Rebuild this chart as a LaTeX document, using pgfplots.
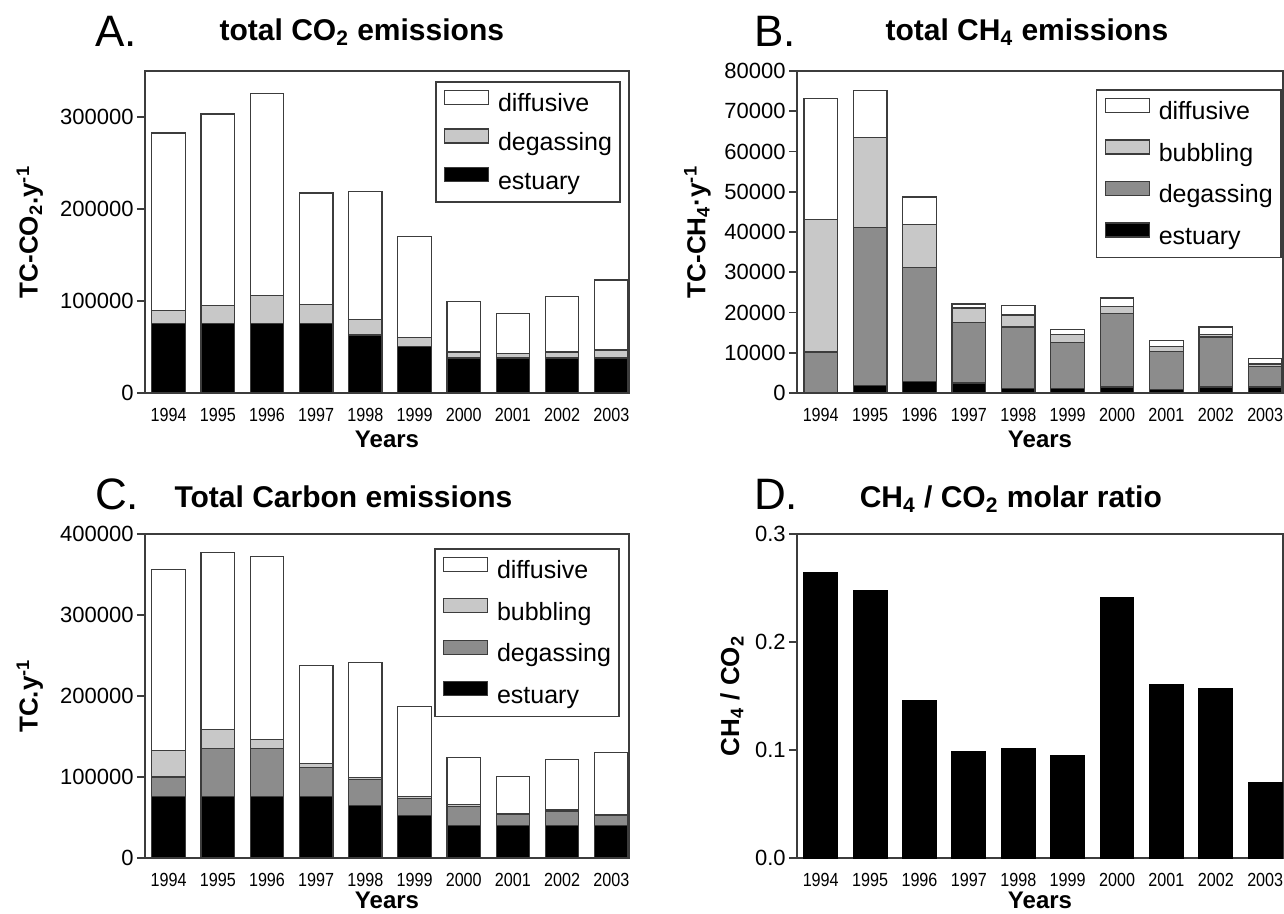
\documentclass[border=0pt]{standalone}
\usepackage{fontspec}
\setmainfont{Liberation Sans}
\newfontfamily\narrowfont[FakeStretch=0.85]{Liberation Sans}
\usepackage{pgfplots}
\usepackage{pgfplotstable}
\pgfplotsset{compat=1.18}

\definecolor{lgray}{RGB}{200,200,200}
\definecolor{mgray}{RGB}{140,140,140}
\definecolor{edge}{RGB}{60,60,60}

% segments of the stacked bars (not cumulative)
\pgfplotstableread{
i est deg dif
0 75700 13800 193100
1 75700 19200 208400
2 75700 30100 219900
3 75700 20300 121400
4 63000 16700 139500
5 50700 9400 110200
6 38000 6600 55000
7 38000 4800 43800
8 38000 6600 60100
9 38000 8700 76100
}\tabA

\pgfplotstableread{
i est deg bub dif
0 0 10200 32900 30000
1 1900 39300 22300 11700
2 2900 28300 10600 6900
3 2500 15100 3500 1000
4 1200 15200 3000 2300
5 1200 11400 2000 1200
6 1500 18300 1600 2200
7 900 9400 1200 1600
8 1500 12400 700 1800
9 1500 5000 700 1400
}\tabB

\pgfplotstableread{
i est deg bub dif
0 76400 23600 33100 223500
1 76400 59100 22800 219000
2 76400 58700 10800 226000
3 76400 35600 4500 121500
4 64900 31800 2900 142100
5 52100 21000 2500 111200
6 39700 24300 2100 57500
7 39700 13600 1700 45800
8 39700 18200 1600 62000
9 39700 12800 1600 76500
}\tabC

\pgfplotstableread{
i ratio
0 0.264
1 0.248
2 0.146
3 0.0985
4 0.101
5 0.095
6 0.241
7 0.1605
8 0.1565
9 0.070
}\tabD

\newcommand\xt{\narrowfont\fontsize{9.5}{9.5}\selectfont}
\tikzset{letter/.style={anchor=base west, font=\fontsize{22}{22}\selectfont}}

\pgfplotsset{
  lg/.style={legend image code/.code={\draw[##1, line width=0.6pt] (0pt,0.5pt) rectangle (22pt,7.5pt);}},
  panel/.style={
    scale only axis, clip=false,
    xmin=-0.48, xmax=9.36, ymin=0,
    xtick={0,...,9},
    xticklabels={{\xt 1994},{\xt 1995},{\xt 1996},{\xt 1997},{\xt 1998},
      {\xt 1999},{\xt 2000},{\xt 2001},{\xt 2002},{\xt 2003}},
    xticklabel style={font=\xt},
    major x tick style={draw=none},
    ytick pos=left, tick align=outside, major tick length=4pt,
    ytick style={edge, line width=0.8pt},
    axis line style={edge, line width=0.8pt},
    scaled y ticks=false,
    yticklabel={\fontsize{11}{11}\selectfont\pgfmathprintnumber[assume math mode=true]{\tick}},
    yticklabel style={font=\fontsize{11}{11}\selectfont, inner sep=1.5pt,
      /pgf/number format/fixed, /pgf/number format/set thousands separator={}},
    title style={anchor=base, font=\bfseries\fontsize{15}{15}\selectfont},
    xlabel={Years},
    xlabel style={at={(axis description cs:0.5,0)}, anchor=center, yshift=-23pt,
      font=\bfseries\fontsize{12}{12}\selectfont},
    ylabel style={anchor=center, font=\bfseries\fontsize{13}{13}\selectfont},
    bar width=0.68,
    every axis plot/.append style={draw=edge, line width=0.6pt},
    reverse legend,
    legend cell align=left,
    legend style={anchor=north east, draw=edge, line width=0.8pt,
      font=\fontsize{12.5}{12.5}\selectfont, inner sep=4pt, column sep=4.5pt,
      nodes={inner sep=0pt, text height=9pt, text depth=2.5pt}},
  },
}

\begin{document}
\begin{tikzpicture}
\useasboundingbox (0,0) rectangle (642pt,457pt);

% A
\begin{axis}[panel, ybar stacked, at={(72.5pt,260.5pt)}, anchor=south west,
  width=242pt, height=161pt, ymax=350000, ytick={0,100000,200000,300000},
  title={total CO\textsubscript{2} emissions},
  title style={at={(axis description cs:0.448,1)}, yshift=9pt},
  ylabel={TC-CO\textsubscript{2}.y\textsuperscript{-1}},
  ylabel style={at={(axis description cs:-0.238,0.5)}},
  legend style={at={(axis description cs:0.983,0.969)}, row sep=5.75pt}]
\addplot[fill=black, lg] table[x=i, y=est] \tabA;
\addplot[fill=lgray, lg] table[x=i, y=deg] \tabA;
\addplot[fill=white, lg] table[x=i, y=dif] \tabA;
\legend{estuary, degassing, diffusive}
\node[letter] at (axis description cs:0,1) [xshift=-28.5pt, yshift=12pt] {A.};
\end{axis}

% B
\begin{axis}[panel, ybar stacked, at={(398.5pt,260.5pt)}, anchor=south west,
  width=243pt, height=161pt, ymax=80000, ytick={0,10000,...,80000},
  title={total CH\textsubscript{4} emissions},
  title style={at={(axis description cs:0.473,1)}, yshift=9pt},
  ylabel={TC-CH\textsubscript{4}·y\textsuperscript{-1}},
  ylabel style={at={(axis description cs:-0.205,0.5)}},
  legend style={at={(axis description cs:0.997,0.944)}, row sep=7.2pt}]
\addplot[fill=black, lg] table[x=i, y=est] \tabB;
\addplot[fill=mgray, lg] table[x=i, y=deg] \tabB;
\addplot[fill=lgray, lg] table[x=i, y=bub] \tabB;
\addplot[fill=white, lg] table[x=i, y=dif] \tabB;
\legend{estuary, degassing, bubbling, diffusive}
\node[letter] at (axis description cs:0,1) [xshift=-25pt, yshift=12pt] {B.};
\end{axis}

% C
\begin{axis}[panel, ybar stacked, at={(72.5pt,28pt)}, anchor=south west,
  width=242pt, height=162pt, ymax=400000, ytick={0,100000,...,400000},
  xlabel style={yshift=1.8pt},
  title={Total Carbon emissions},
  title style={at={(axis description cs:0.41,1)}, yshift=7pt},
  ylabel={TC.y\textsuperscript{-1}},
  ylabel style={at={(axis description cs:-0.238,0.5)}},
  legend style={at={(axis description cs:0.981,0.957)}, row sep=7.2pt}]
\addplot[fill=black, lg] table[x=i, y=est] \tabC;
\addplot[fill=mgray, lg] table[x=i, y=deg] \tabC;
\addplot[fill=lgray, lg] table[x=i, y=bub] \tabC;
\addplot[fill=white, lg] table[x=i, y=dif] \tabC;
\legend{estuary, degassing, bubbling, diffusive}
\node[letter] at (axis description cs:0,1) [xshift=-28.5pt, yshift=12pt] {C.};
\end{axis}

% D
\begin{axis}[panel, ybar, at={(398.5pt,28pt)}, anchor=south west,
  width=243pt, height=162pt, ymax=0.3, ytick={0,0.1,0.2,0.3},
  xlabel style={yshift=1.8pt},
  yticklabel={\fontsize{11}{11}\selectfont\pgfmathprintnumber[assume math mode=true, fixed zerofill, precision=1]{\tick}},
  title={CH\textsubscript{4} / CO\textsubscript{2} molar ratio},
  title style={at={(axis description cs:0.44,1)}, yshift=7pt},
  ylabel={CH\textsubscript{4} / CO\textsubscript{2}},
  ylabel style={at={(axis description cs:-0.134,0.5)}}]
\addplot[fill=black, draw=black] table[x=i, y=ratio] \tabD;
\node[letter] at (axis description cs:0,1) [xshift=-25pt, yshift=12pt] {D.};
\end{axis}
\end{tikzpicture}
\end{document}
